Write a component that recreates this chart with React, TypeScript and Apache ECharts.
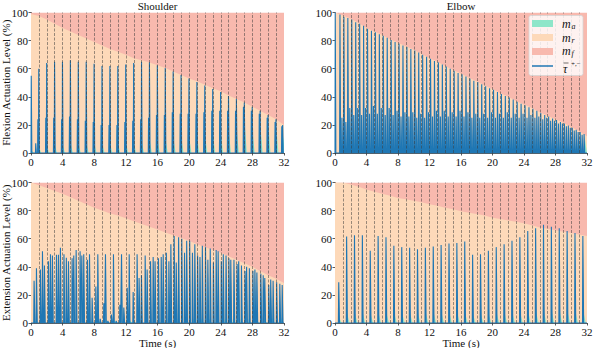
import React, { useEffect, useRef } from "react";
import * as echarts from "echarts";

const FONT = '"Liberation Serif", "Times New Roman", serif';

// ---------- shared ----------
const seconds = [0, 1, 2, 3, 4, 5, 6, 7, 8, 9, 10, 11, 12, 13, 14, 15, 16, 17, 18, 19, 20, 21, 22, 23, 24, 25, 26, 27, 28, 29, 30, 31, 32];
const secondMarkers = [1, 2, 3, 4, 5, 6, 7, 8, 9, 10, 11, 12, 13, 14, 15, 16, 17, 18, 19, 20, 21, 22, 23, 24, 25, 26, 27, 28, 29, 30, 31];
const totalLevel = 100;

// ---------- Shoulder flexion ----------
const sfRestTop = [99, 97.5, 95, 92, 89, 86.5, 84, 81.5, 79, 76.5, 74, 72, 70, 67.5, 66, 64.5, 62.5, 60.5, 58, 55.5, 53, 51, 48.5, 46, 44, 41, 38.5, 36, 33, 30, 27, 24, 20];
const sfBigT = [0.05, 1, 2, 3, 4, 5, 6, 7, 8, 9, 10, 11, 12, 13, 14, 15, 16, 17, 18, 19, 20, 21, 22, 23, 24, 25, 26, 27, 28, 29, 30, 31, 31.85];
const sfBigH = [55, 60, 64, 65, 65, 66, 65, 65, 63.5, 62, 62, 62, 63, 64, 65, 64.5, 62.5, 60.5, 58, 55.5, 53, 50.5, 48, 45.5, 43.5, 40.5, 38.5, 36, 33, 30, 27, 24, 20];
const sfSmallT = [0.62, 0.89, 1.89, 2.89, 3.89, 4.89, 5.89, 6.89, 7.89, 8.89, 9.89, 10.89, 11.89, 12.89, 13.89, 14.89, 15.89, 16.89, 17.89, 18.89, 19.89, 20.89, 21.89, 22.89, 23.89, 24.89, 25.89, 26.89, 27.89, 28.89, 29.89, 30.89, 31.74];
const sfSmallH = [7, 24, 25, 25, 24, 26, 24, 23, 22, 20, 20, 20, 22, 23, 24, 25, 27, 27, 29, 28, 28, 28, 29, 30, 30, 30, 30, 33, 30, 28, 25, 22, 19];
const sfActiveH = [2, 4, 5, 5, 5, 6, 6, 6, 6, 6, 6, 6, 7, 7, 7, 8, 8, 9, 9, 10, 10, 11, 12, 12, 13, 14, 15, 20, 14, 18, 20, 18, 12];

// ---------- Elbow flexion ----------
const efRestTop = [100, 97.8, 95.5, 92.5, 89, 86.5, 84, 81, 78.5, 76, 73.5, 70.5, 67.5, 65, 62, 59, 56.5, 53.5, 51, 48, 45.5, 42.5, 40, 37, 34.5, 32, 29, 26.5, 24, 21.5, 18.5, 15.5, 12];
const efTallT = [0.05, 0.65, 1.15, 1.65, 2.15, 2.65, 3.15, 3.65, 4.15, 4.65, 5.15, 5.65, 6.15, 6.65, 7.15, 7.65, 8.15, 8.65, 9.15, 9.65, 10.15, 10.65, 11.15, 11.65, 12.15, 12.65, 13.15, 13.65, 14.15, 14.65, 15.15, 15.65, 16.15, 16.65, 17.15, 17.65, 18.15, 18.65, 19.15, 19.65, 20.15, 20.65, 21.15, 21.65, 22.15, 22.65, 23.15, 23.65, 24.15, 24.65, 25.15, 25.65, 26.15, 26.65, 27.15, 27.65, 28.15, 28.65, 29.15, 29.65, 30.15, 30.65, 31.15, 31.65];
const efTallH = [100, 98.5, 97, 96, 95, 93, 92, 90.5, 88.5, 87, 86, 84.5, 83.5, 82, 80.5, 79, 78, 76.5, 75.5, 74, 73, 71.5, 70, 68.5, 67, 65.5, 64.5, 63, 61.5, 60, 58.5, 57, 56, 54.5, 53, 51.5, 50.5, 49, 47.5, 46, 45, 43.5, 42, 40.5, 39.5, 38, 36.5, 35, 34, 32.5, 31.5, 30, 28.5, 27, 26, 24.5, 23.5, 22, 21, 19.5, 18, 16.5, 15, 13.5];
const efLowT = [0.9, 1.4, 1.9, 2.4, 2.9, 3.4, 3.9, 4.4, 4.9, 5.4, 5.9, 6.4, 6.9, 7.4, 7.9, 8.4, 8.9, 9.4, 9.9, 10.4, 10.9, 11.4, 11.9, 12.4, 12.9, 13.4, 13.9, 14.4, 14.9, 15.4, 15.9, 16.4, 16.9, 17.4, 17.9, 18.4, 18.9, 19.4, 19.9, 20.4, 20.9, 21.4, 21.9, 22.4, 22.9, 23.4, 23.9, 24.4, 24.9, 25.4, 25.9, 26.4, 26.9, 27.4, 27.9, 28.4, 28.9, 29.4, 29.9, 30.4, 30.9, 31.4];
const efLowH = [25, 22, 32, 27, 32, 27, 32, 28, 33.5, 28, 32, 27, 32, 27, 30, 26, 29, 26, 29, 25, 28, 25, 29, 26, 30, 26, 30, 26, 29, 26, 30, 26, 29, 25, 28, 25, 28, 25, 29, 25, 28, 25, 29, 25, 28, 25, 28, 25, 27, 25, 26, 24, 25, 23, 23, 21, 21, 19, 18, 16, 15, 13];
const efActiveT = [0.95, 1.95, 2.95, 3.95, 4.95, 5.95, 6.95, 7.95, 8.95, 9.95, 10.95, 11.95, 12.95, 13.95, 14.95, 15.95, 16.95, 17.95, 18.95, 19.95, 20.95, 21.95, 22.95, 23.95, 24.95, 25.95, 26.95, 27.95, 28.95, 29.95, 30.95, 31.7];
const efActiveH = [2, 3, 3, 3, 3, 3, 3, 3, 3, 3, 3, 3, 3, 3, 3, 3, 3, 3, 3, 3, 4, 4, 4, 4, 4, 5, 5, 6, 6, 7, 8, 10];

// ---------- Shoulder extension ----------
const seRestTop = [100, 98, 96, 94, 92, 89.5, 87, 84.5, 82, 80, 78, 76.5, 74.5, 72.5, 70.5, 68.5, 66.5, 64.5, 62.5, 60.5, 58.5, 56, 54, 52, 50, 47.5, 45, 42.5, 40, 37, 34, 31.5, 28.5];
const seT = [0.42, 0.72, 1.22, 1.48, 1.73, 2.24, 2.49, 2.74, 3.25, 3.5, 3.75, 4.2, 4.5, 4.77, 5.23, 5.44, 5.74, 6.24, 6.46, 6.7, 7.17, 7.43, 7.76, 8.23, 8.48, 8.78, 9.24, 9.45, 9.75, 10.2, 10.46, 10.8, 11.27, 11.48, 11.77, 12.2, 12.45, 12.95, 13.45, 13.7, 14.0, 14.47, 14.72, 15.15, 15.48, 15.72, 16.15, 16.5, 16.75, 17.15, 17.47, 17.72, 18.14, 18.4, 18.7, 19.1, 19.45, 19.72, 20.1, 20.45, 20.75, 21.1, 21.4, 21.7, 22.1, 22.4, 22.7, 23.1, 23.45, 23.7, 24.1, 24.35, 24.7, 25.06, 25.3, 25.7, 26.1, 26.3, 26.65, 27.1, 27.3, 27.65, 28.1, 28.35, 28.6, 29.1, 29.4, 29.6, 30.1, 30.35, 30.65, 31.1, 31.5, 31.8];
const seH = [30, 39, 38, 51, 41, 44, 49, 48, 48.5, 48.5, 53.5, 49, 46.5, 44, 46, 48, 52, 51, 48, 49, 45, 49, 18, 26, 49, 3, 14, 49, 1.5, 6, 49, 1.5, 13, 49, 11, 25, 49, 22, 49, 32, 34, 48, 38, 44, 47, 44, 46, 47, 49, 50, 44, 56, 62, 43, 61, 60, 50, 58.5, 58.5, 50, 56, 48, 47, 55, 54, 45, 53, 43, 52, 51, 44, 49, 48, 46, 45, 45, 42, 44, 41, 37, 40, 39, 37, 38, 36, 35, 34, 32, 27, 31, 30, 29, 28, 27];
const seActiveT = [0.5, 1.5, 2.5, 3.5, 4.5, 5.5, 6.5, 7.5, 8.5, 9.5, 10.5, 11.5, 12.5, 13.5, 14.5, 15.5, 16.5, 17.5, 18.5, 19.5, 20.5, 21.5, 22.5, 23.5, 24.5, 25.5, 26.5, 27.5, 28.5, 29.5, 30.5, 31.5];
const seActiveH = [2, 2, 2, 2, 2, 2, 2, 2, 2, 2, 2, 2, 2, 2, 2, 2, 2, 3, 3, 3, 3, 3, 3, 3, 3, 3, 3, 3, 4, 4, 4, 5];

// ---------- Elbow extension ----------
const erRestTop = [100, 100, 98.5, 97, 95, 93.5, 92, 90.5, 89, 88, 87, 86, 84.5, 83.5, 82, 81, 79.5, 78.5, 77.5, 76.5, 75, 74, 73, 72, 71, 69.5, 68, 67, 66, 65, 64, 63, 62];
const erT = [0.5, 1.5, 2.5, 3.5, 4.5, 5.5, 6.5, 7.5, 8.5, 9.5, 10.5, 11.5, 12.5, 13.5, 14.5, 15.5, 16.5, 17.5, 18.5, 19.5, 20.5, 21.5, 22.5, 23.5, 24.5, 25.5, 26.5, 27.5, 28.5, 29.5, 30.5, 31.5];
const erH = [29, 61.5, 62.5, 62.5, 51.5, 62, 61, 55, 54, 53.5, 52.5, 53.5, 54.5, 55.5, 56.5, 57, 58, 48.5, 49, 51.5, 54, 56, 58.5, 61, 65.5, 67.5, 70, 68.5, 67.5, 65.5, 64, 62];
const erActiveH = [4, 7, 7, 7, 6, 7, 7, 7, 7, 7, 7, 7, 7, 7, 7, 7, 7, 6, 6, 6, 7, 7, 7, 7, 8, 8, 8, 8, 8, 8, 8, 8];

// ---------- colours ----------
const C_FATIGUE = "#f8b9ae";
const C_REST = "#fdd9b9";
const C_ACTIVE = "#8ee6c9";
const C_TAU = "#1f77b4";

function pulses(times: number[], heights: number[], hw: number, flat: number) {
  const pts = times.map((t, i) => ({ t, h: heights[i] })).sort((a, b) => a.t - b.t);
  const out: number[][] = [[0, 0]];
  for (const p of pts) {
    out.push([p.t - hw, 0], [p.t - flat, p.h], [p.t + flat, p.h], [p.t + hw, 0]);
  }
  out.push([32, 0]);
  return out;
}

function decays(times: number[], heights: number[], w: number) {
  const out: number[][] = [[0, 0]];
  times.forEach((t, i) => {
    out.push([t - 0.02, 0], [t + 0.04, heights[i]], [t + w, 0]);
  });
  out.push([32, 0]);
  return out;
}

type Panel = {
  rest: number[];
  tau: number[][];
  active: number[][];
};

const panels: Panel[] = [
  {
    rest: sfRestTop,
    tau: pulses(sfBigT.concat(sfSmallT), sfBigH.concat(sfSmallH), 0.055, 0.02),
    active: decays(sfBigT, sfActiveH, 0.3),
  },
  {
    rest: efRestTop,
    tau: pulses(efTallT.concat(efLowT), efTallH.concat(efLowH), 0.06, 0.02),
    active: decays(efActiveT, efActiveH, 0.3),
  },
  {
    rest: seRestTop,
    tau: pulses(seT, seH, 0.07, 0.03),
    active: decays(seActiveT, seActiveH, 0.3),
  },
  {
    rest: erRestTop,
    tau: pulses(erT, erH, 0.07, 0.025),
    active: decays(erT, erActiveH, 0.35),
  },
];

const grids = [
  { left: 31, top: 12.5, width: 253, height: 140.5 },
  { left: 335, top: 12.5, width: 252, height: 140.5 },
  { left: 31, top: 182.5, width: 253, height: 140.5 },
  { left: 335, top: 182.5, width: 252, height: 140.5 },
];

const axisLine = { show: true, lineStyle: { color: "#333", width: 0.8 } };
const axisTick = { show: true, length: 2.5, lineStyle: { color: "#333", width: 0.8 } };
const axisLabel = { color: "#111", fontFamily: FONT, fontSize: 11, margin: 3 };
const nameStyle = { color: "#111", fontFamily: FONT, fontSize: 11 };

function buildOption() {
  const xAxis = grids.map((_, i) => ({
    type: "value",
    gridIndex: i,
    min: 0,
    max: 32,
    interval: 4,
    axisLine,
    axisTick,
    axisLabel,
    splitLine: { show: false },
    name: i >= 2 ? "Time (s)" : "",
    nameLocation: "middle",
    nameGap: 14,
    nameMoveOverlap: false,
    nameTextStyle: nameStyle,
  }));
  const yAxis = grids.map((_, i) => ({
    type: "value",
    gridIndex: i,
    min: 0,
    max: 100,
    interval: 20,
    axisLine,
    axisTick,
    axisLabel,
    splitLine: { show: false },
    name: i === 0 ? "Flexion Actuation Level (%)" : i === 2 ? "Extension Actuation Level (%)" : "",
    nameLocation: "middle",
    nameGap: 20,
    nameMoveOverlap: false,
    nameTextStyle: nameStyle,
  }));
  const series: any[] = [];
  panels.forEach((p, i) => {
    series.push({
      name: "m_f",
      type: "line",
      xAxisIndex: i,
      yAxisIndex: i,
      data: seconds.map((t) => [t, totalLevel]),
      symbol: "none",
      lineStyle: { width: 0 },
      areaStyle: { color: C_FATIGUE, opacity: 1 },
      silent: true,
      z: 1,
    });
    series.push({
      name: "m_r",
      type: "line",
      xAxisIndex: i,
      yAxisIndex: i,
      data: seconds.map((t, j) => [t, p.rest[j]]),
      symbol: "none",
      lineStyle: { width: 0 },
      areaStyle: { color: C_REST, opacity: 1 },
      silent: true,
      z: 2,
    });
    series.push({
      name: "m_a",
      type: "line",
      xAxisIndex: i,
      yAxisIndex: i,
      data: p.active,
      symbol: "none",
      lineStyle: { width: 0 },
      areaStyle: { color: C_ACTIVE, opacity: 1 },
      silent: true,
      z: 3,
      markLine: {
        silent: true,
        symbol: ["none", "none"],
        label: { show: false },
        lineStyle: { color: "#3a3a3a", type: [3, 1.5], width: 0.8, opacity: 0.65 },
        data: secondMarkers.map((s) => ({ xAxis: s })),
        animation: false,
      },
    });
    series.push({
      name: "tau",
      type: "line",
      xAxisIndex: i,
      yAxisIndex: i,
      data: p.tau,
      symbol: "none",
      lineStyle: { width: 1.1, color: C_TAU },
      areaStyle: { color: C_TAU, opacity: 0.75 },
      silent: true,
      z: 4,
    });
  });

  const lx = 532;
  const tx = 562;
  const graphic: any[] = [
    { type: "text", x: 157.5, y: 5.5, z: 50, style: { text: "Shoulder", align: "center", verticalAlign: "middle", font: `11px ${FONT}`, fill: "#111" } },
    { type: "text", x: 461, y: 5.5, z: 50, style: { text: "Elbow", align: "center", verticalAlign: "middle", font: `11px ${FONT}`, fill: "#111" } },
    { type: "rect", z: 100, shape: { x: 529, y: 15.5, width: 54, height: 60, r: 2 }, style: { fill: "rgba(255,255,255,0.82)", stroke: "#d6d6d6", lineWidth: 0.8 } },
    { type: "rect", z: 101, shape: { x: lx, y: 20, width: 21, height: 7 }, style: { fill: C_ACTIVE } },
    { type: "rect", z: 101, shape: { x: lx, y: 34, width: 21, height: 7 }, style: { fill: C_REST } },
    { type: "rect", z: 101, shape: { x: lx, y: 48, width: 21, height: 7 }, style: { fill: C_FATIGUE } },
    { type: "line", z: 101, shape: { x1: lx, y1: 66, x2: lx + 21, y2: 66 }, style: { stroke: C_TAU, lineWidth: 1.5 } },
  ];
  const entries = [
    { y: 23.5, sub: "a" },
    { y: 37.5, sub: "r" },
    { y: 51, sub: "f" },
  ];
  entries.forEach((e) => {
    graphic.push({ type: "text", z: 102, x: tx, y: e.y, style: { text: "m", align: "left", verticalAlign: "middle", font: `italic 12px ${FONT}`, fill: "#111" } });
    graphic.push({ type: "text", z: 102, x: tx + 9.5, y: e.y + 2.5, style: { text: e.sub, align: "left", verticalAlign: "middle", font: `italic 8px ${FONT}`, fill: "#111" } });
  });
  graphic.push({ type: "text", z: 102, x: tx + 1, y: 68.5, style: { text: "τ", align: "left", verticalAlign: "middle", font: `italic 12px ${FONT}`, fill: "#111" } });
  graphic.push({ type: "line", z: 102, shape: { x1: tx + 1.5, y1: 63, x2: tx + 6.5, y2: 63 }, style: { stroke: "#111", lineWidth: 0.6 } });
  graphic.push({ type: "text", z: 102, x: tx + 9, y: 63.5, style: { text: "+,−", align: "left", verticalAlign: "middle", font: `7px ${FONT}`, fill: "#111" } });

  return {
    animation: false,
    backgroundColor: "#ffffff",
    grid: grids.map((g) => ({ ...g, containLabel: false, outerBoundsMode: "none" })),
    xAxis,
    yAxis,
    series,
    graphic,
  };
}

export default function App() {
  const ref = useRef<HTMLDivElement>(null);
  useEffect(() => {
    if (!ref.current) return;
    const chart = echarts.init(ref.current, undefined, { renderer: "svg" });
    chart.setOption(buildOption() as any);
    return () => chart.dispose();
  }, []);
  return <div ref={ref} style={{ position: "absolute", left: 0, top: 0, width: 598, height: 348 }} />;
}
